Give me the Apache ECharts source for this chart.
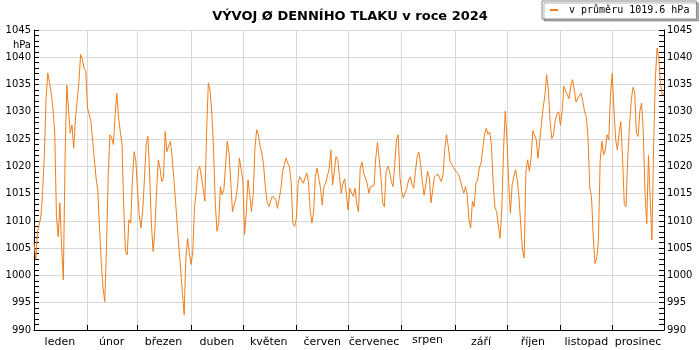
<!DOCTYPE html>
<html><head><meta charset="utf-8">
<script src="https://cdn.jsdelivr.net/npm/echarts@6/dist/echarts.min.js"></script>
<style>html,body{margin:0;padding:0;background:#fff}#c{width:700px;height:350px}</style>
</head><body><div id="c"></div>
<script>
const chartTitle = 'VÝVOJ Ø DENNÍHO TLAKU v roce 2024';
const seriesName = 'v průměru 1019.6 hPa';
const unitLabel = 'hPa';
const year = 2024;
const monthNames = ['leden','únor','březen','duben','květen','červen','červenec','srpen','září','říjen','listopad','prosinec'];
const yMin = 990, yMax = 1045, yStep = 5;

// daily mean pressure (hPa), one array per month
const jan = [1006,1003,1008,1009.3,1010.8,1015.4,1022.1,1032.5,1037.1,1035.3,1033.4,1030.4,1026.4,1010.8,1007.1,1013.3,1005.3,999.2,1021.5,1034.9,1034.9,1026.1,1027.6,1023.3,1028.7,1028.7,1035.3,1040.5,1039.6,1038,1037.4];
const feb = [1030.7,1031,1028.2,1024.6,1021.2,1017.8,1015.4,1008.4,1002.2,997.7,995.2,1005,1018.5,1025.8,1025.2,1024,1029.5,1033.4,1028.9,1026.4,1024,1012.3,1004.4,1003.8,1010.2,1009.6,1017.2,1022.7,1021];
const mar = [1015.5,1011,1008.7,1012,1017.8,1024,1025.5,1018.5,1009.6,1004.4,1008.1,1015.4,1021.2,1019.7,1017.2,1017.8,1026.4,1022.7,1023.7,1024.6,1021.8,1017.8,1013.6,1009.3,1005,1001,996.7,992.8,1003.2,1006.8,1004.1];
const apr = [1002,1004.4,1012.6,1015.4,1019.4,1020,1019.7,1016,1013.6,1026.4,1035.3,1034,1029.8,1023.3,1013.6,1008.1,1009.6,1016.3,1014.8,1015.7,1020.3,1024.6,1022.4,1017.2,1011.7,1012,1014.2,1016.6,1021.5,1021.5];
const may = [1017.5,1007.5,1011.7,1017.5,1014.8,1011.7,1014.8,1023.3,1026.7,1025.8,1023.7,1022.4,1020.3,1016.3,1013.6,1012.6,1012.3,1014.5,1014.5,1014,1012.3,1012.3,1015.7,1019.1,1020.3,1021.5,1020.6,1020,1016.9,1009.6,1009];
const jun = [1010.5,1016.9,1018.1,1018.1,1016.9,1017.2,1018.8,1017.2,1012,1009.6,1011.7,1018.1,1019.7,1017.8,1016,1012.9,1016.3,1017,1016.7,1019.5,1023,1016.6,1019.1,1021.8,1021.2,1018.1,1015.1,1016.9,1017.7,1014.8];
const jul = [1012,1016,1015.1,1014.5,1016,1013,1011.7,1019.7,1020.8,1018.8,1018.5,1016.9,1015.1,1016.3,1016.6,1016.5,1021.5,1024.4,1024.3,1018.1,1013.3,1012.6,1019.1,1020,1019.1,1017.2,1016.3,1020.3,1024.9,1025.8,1018.1];
const aug = [1015.4,1014.2,1014.2,1016,1017.5,1018.1,1016.7,1016,1019.1,1021.8,1022.6,1020.3,1017.2,1014.7,1016.6,1019.1,1018,1013.3,1013,1018.1,1018.1,1018.6,1018.9,1017.2,1018.5,1023.3,1025.8,1023.7,1021,1020.4,1019.8];
const sep = [1019.3,1018.9,1018.5,1017.5,1016.1,1015.1,1016.3,1014.8,1010.2,1008.7,1013.6,1012.6,1016.9,1017.5,1019.7,1020.6,1020.6,1025.8,1027,1025.9,1026.3,1024,1017.2,1012.6,1011.7,1012,1006.8,1012,1022.7,1030.1];
const oct = [1025.2,1017.2,1011.4,1016.6,1018.1,1019.4,1017.5,1014.2,1009.3,1004.7,1003.2,1019.1,1021.2,1019.1,1021.5,1026.5,1026.3,1024.9,1021.5,1024.6,1027.9,1030.8,1033,1036.8,1034.1,1028.2,1025.1,1025.8,1028.5,1029.6,1030];
const nov = [1027.5,1030.1,1034.7,1034.5,1033.1,1032.4,1034.7,1035.9,1034.1,1031.8,1032.5,1032.8,1033.4,1031.9,1030,1029,1025.2,1016,1014.5,1007.1,1002.2,1003.2,1006.2,1020.9,1024.6,1022.1,1023,1025.8,1024.9,1033.1];
const dec = [1037.1,1030.4,1024.9,1023,1026.1,1028.2,1021.5,1013,1012.6,1021.5,1027.3,1031.9,1034.5,1033.7,1026.1,1025.5,1030.1,1031.6,1026.4,1015,1009.5,1022,1014,1006.5,1024,1036.2,1041.7,1039.6,1035,1033.1,1033.4];

const months = [jan,feb,mar,apr,may,jun,jul,aug,sep,oct,nov,dec];
const days = [], values = [];
const monthStart = new Set(), labelIdx = {};
months.forEach((arr, m) => {
  const start = days.length;
  if (m > 0) monthStart.add(start);
  labelIdx[start + Math.floor(arr.length / 2)] = m;
  arr.forEach((v, i) => {
    days.push(year + '-' + String(m + 1).padStart(2, '0') + '-' + String(i + 1).padStart(2, '0'));
    values.push(v);
  });
});

const chart = echarts.init(document.getElementById('c'), null, {renderer: 'canvas'});
const yAxisCommon = {
  type: 'value', min: yMin, max: yMax, interval: yStep,
  axisLine: {show: true, lineStyle: {color: '#000', width: 1}},
  axisTick: {show: true, inside: true, length: 5, lineStyle: {color: '#000'}},
  minorTick: {show: true, splitNumber: 5, length: 5, lineStyle: {color: '#000'}},
  axisLabel: {fontFamily: 'DejaVu Sans', fontSize: 10, color: '#000', margin: 3, formatter: (v) => String(v)}
};
chart.setOption({
  animation: false,
  backgroundColor: '#fff',
  title: {
    text: chartTitle, left: 'center', top: 5,
    textStyle: {fontFamily: 'DejaVu Sans', fontWeight: 'bold', fontSize: 13, color: '#000'}
  },
  legend: {
    left: 542, top: 1, padding: [4, 7, 4, 8],
    icon: 'rect', itemWidth: 8, itemHeight: 2,
    backgroundColor: '#fff', borderColor: '#888', borderWidth: 1,
    shadowColor: 'rgba(0,0,0,0.3)', shadowOffsetX: 2, shadowOffsetY: 2, shadowBlur: 0,
    textStyle: {fontFamily: 'DejaVu Sans Mono', fontSize: 10, color: '#000', padding: [0, 0, 0, 6]}
  },
  grid: {left: 34, right: 36, top: 30, bottom: 20, outerBoundsMode: 'none'},
  xAxis: {
    type: 'category', data: days, boundaryGap: false,
    axisLine: {lineStyle: {color: '#000', width: 1}},
    axisTick: {inside: true, length: 5, interval: (i) => monthStart.has(i), lineStyle: {color: '#000'}},
    splitLine: {show: true, interval: (i) => monthStart.has(i), lineStyle: {color: '#d9d9d9', width: 1}},
    axisLabel: {
      interval: (i) => labelIdx[i] !== undefined,
      formatter: (v, i) => labelIdx[i] === 7 ? '{up|' + monthNames[7] + '}' : monthNames[labelIdx[i]],
      rich: {up: {fontFamily: 'DejaVu Sans', fontSize: 11, color: '#000', lineHeight: 7}},
      fontFamily: 'DejaVu Sans', fontSize: 11, color: '#000', margin: 7
    }
  },
  yAxis: [
    Object.assign({}, yAxisCommon, {position: 'left', splitLine: {show: true, lineStyle: {color: '#d9d9d9', width: 1}}}),
    Object.assign({}, yAxisCommon, {position: 'right', splitLine: {show: false}})
  ],
  graphic: [{type: 'text', x: 31, y: 40, style: {text: unitLabel, align: 'right', verticalAlign: 'top', fontFamily: 'DejaVu Sans', fontSize: 10, fill: '#000'}}],
  series: [{
    name: seriesName, type: 'line', data: values, yAxisIndex: 0,
    showSymbol: false, symbol: 'none',
    lineStyle: {color: '#f07d1c', width: 1}, itemStyle: {color: '#f07d1c'}
  }]
});
</script></body></html>
